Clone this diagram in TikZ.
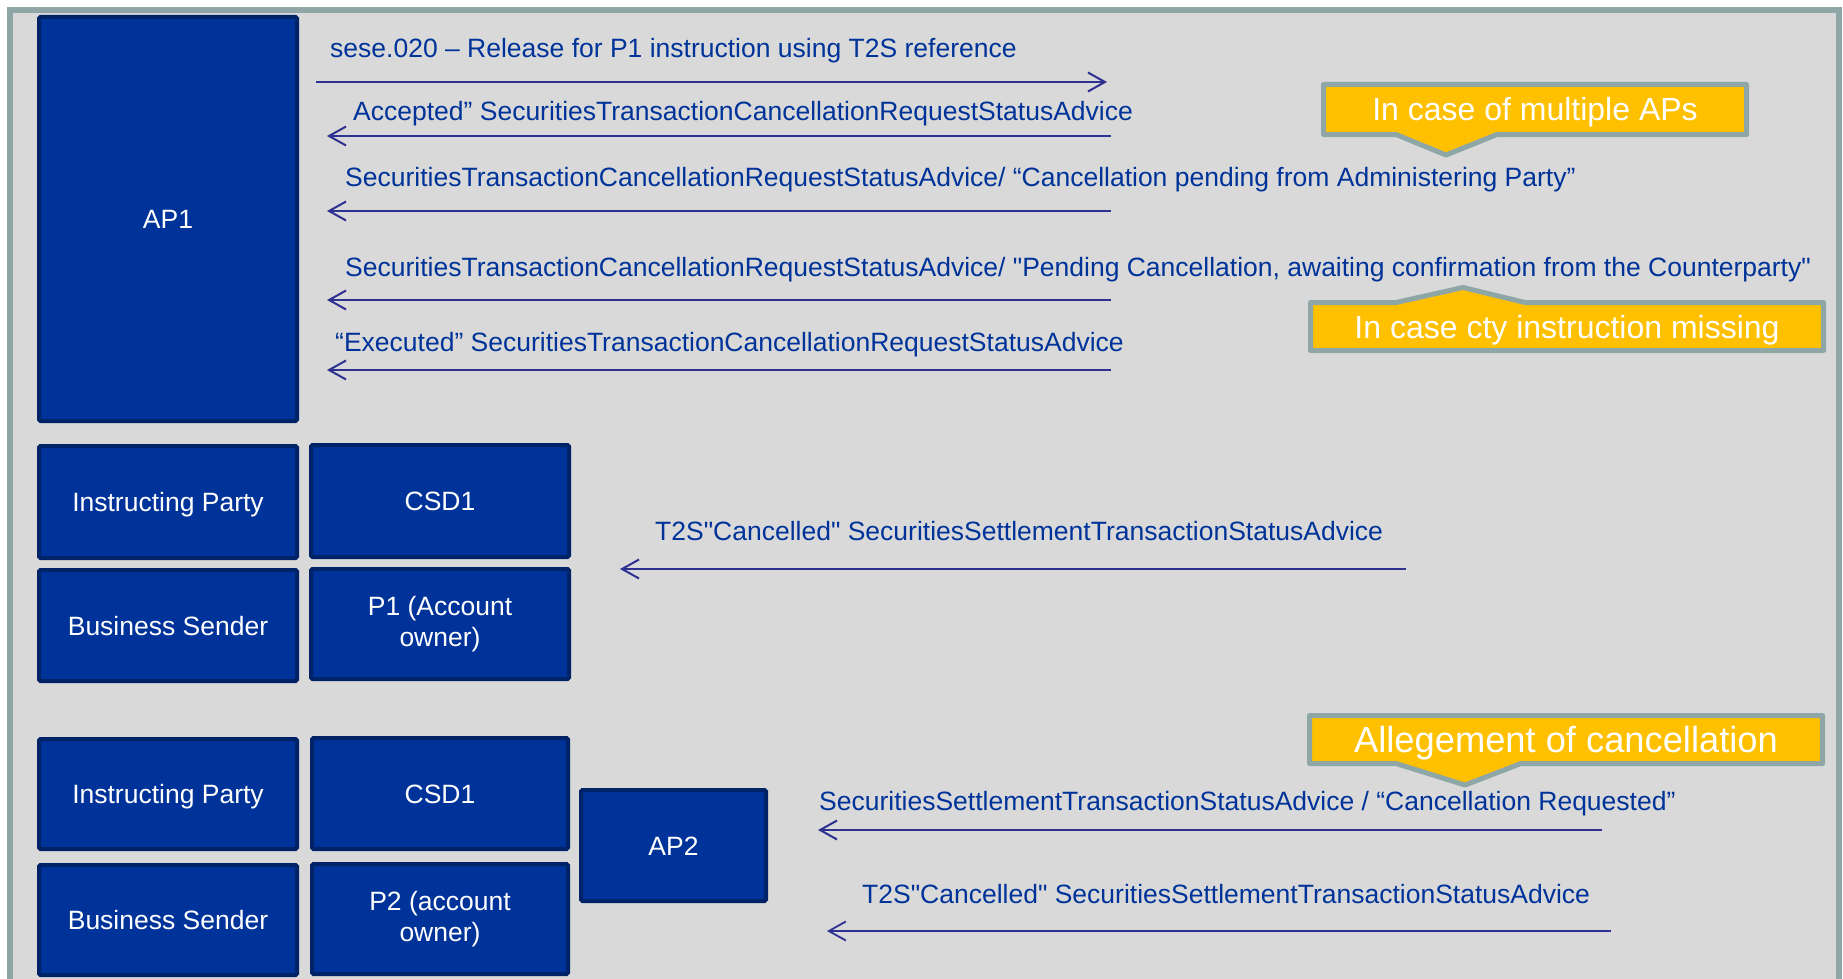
\documentclass[tikz,border=0pt]{standalone}
\usepackage{fontspec}
\setmainfont{Liberation Sans}[Ligatures=TeXOff]
\usetikzlibrary{arrows.meta}
\definecolor{bgfill}{RGB}{217,217,217}
\definecolor{framecol}{RGB}{143,166,166}
\definecolor{boxfill}{RGB}{0,51,153}
\definecolor{boxedge}{RGB}{0,34,102}
\definecolor{msgblue}{RGB}{0,51,153}
\definecolor{arrowblue}{RGB}{46,49,146}
\definecolor{callfill}{RGB}{255,192,0}
\tikzset{
  party/.style={draw=boxedge, fill=boxfill, line width=4pt, rounded corners=1.5pt,
    inner sep=0pt, text=white, font=\fontsize{26.5}{31}\selectfont, align=center},
  oneline/.style={text height=19pt, text depth=0pt},
  msg/.style={anchor=base west, inner sep=0pt, text=msgblue, font=\fontsize{26.5}{31}\selectfont},
  flow/.style={draw=arrowblue, line width=2pt, -{Straight Barb[length=17pt,width=19pt]}},
  callout/.style={draw=framecol, fill=callfill, line width=5pt, line join=round},
  calltext/.style={anchor=base, inner sep=0pt, text=white},
}
\begin{document}
\begin{tikzpicture}[x=1pt,y=-1pt]
\clip (0,0) rectangle (1843,979);
\fill[white] (0,0) rectangle (1843,979);
\draw[framecol, fill=bgfill, line width=5.5pt] (10,10) rectangle (1839,1000);

% parties
\node[party, oneline, minimum width=258pt, minimum height=404pt] (ap1) at (168,219) {AP1};
\node[party, oneline, minimum width=258pt, minimum height=112pt] (ip1) at (168,502) {Instructing Party};
\node[party, oneline, minimum width=258pt, minimum height=112pt] (csd1a) at (440,501) {CSD1};
\node[party, oneline, minimum width=258pt, minimum height=111pt] (bs1) at (168,625.5) {Business Sender};
\node[party, minimum width=258pt, minimum height=110pt] (p1) at (440,624) {P1 (Account\\owner)};
\node[party, oneline, minimum width=258pt, minimum height=110pt] (ip2) at (168,794) {Instructing Party};
\node[party, oneline, minimum width=256pt, minimum height=111pt] (csd1b) at (440,793.5) {CSD1};
\node[party, oneline, minimum width=258pt, minimum height=110pt] (bs2) at (168,920) {Business Sender};
\node[party, minimum width=256pt, minimum height=110pt] (p2) at (440,919) {P2 (account\\owner)};
\node[party, oneline, minimum width=185pt, minimum height=111pt] (ap2) at (673.5,845.5) {AP2};

% message arrows
\coordinate (m1s) at (316,82);   \coordinate (m1e) at (1107,82);
\coordinate (m2s) at (1111,136); \coordinate (m2e) at (327,136);
\coordinate (m3s) at (1111,211); \coordinate (m3e) at (327,211);
\coordinate (m4s) at (1111,300); \coordinate (m4e) at (327,300);
\coordinate (m5s) at (1111,370); \coordinate (m5e) at (327,370);
\coordinate (m6s) at (1406,569); \coordinate (m6e) at (620,569);
\coordinate (m7s) at (1602,830); \coordinate (m7e) at (818,830);
\coordinate (m8s) at (1611,931); \coordinate (m8e) at (827,931);
\draw[flow] (m1s) -- (m1e);
\draw[flow] (m2s) -- (m2e);
\draw[flow] (m3s) -- (m3e);
\draw[flow] (m4s) -- (m4e);
\draw[flow] (m5s) -- (m5e);
\draw[flow] (m6s) -- (m6e);
\draw[flow] (m7s) -- (m7e);
\draw[flow, line width=1.8pt] (m8s) -- (m8e);

% message labels
\node[msg] (t1) at (330,58) {sese.020 – Release for P1 instruction using T2S reference};
\node[msg] (t2) at (353,121) {Accepted” SecuritiesTransactionCancellationRequestStatusAdvice};
\node[msg] (t3) at (345,186) {SecuritiesTransactionCancellationRequestStatusAdvice/ “Cancellation pending from Administering Party”};
\node[msg] (t4) at (345,276) {SecuritiesTransactionCancellationRequestStatusAdvice/ "Pending Cancellation, awaiting confirmation from the Counterparty"};
\node[msg] (t5) at (335,351) {“Executed” SecuritiesTransactionCancellationRequestStatusAdvice};
\node[msg] (t6) at (655,540) {T2S"Cancelled" SecuritiesSettlementTransactionStatusAdvice};
\node[msg] (t7) at (819,810) {SecuritiesSettlementTransactionStatusAdvice / “Cancellation Requested”};
\node[msg] (t8) at (862,903) {T2S"Cancelled" SecuritiesSettlementTransactionStatusAdvice};

% callouts
\draw[callout] (1323.5,84.5) -- (1746.5,84.5) -- (1746.5,134.5) -- (1497,134.5)
  -- (1446,155) -- (1396,134.5) -- (1323.5,134.5) -- cycle;
\node[calltext, font=\fontsize{32}{36}\selectfont] (c1) at (1535,121) {In case of multiple APs};
\draw[callout] (1310.5,302.5) -- (1396,302.5) -- (1463,287.5) -- (1525,302.5)
  -- (1823.5,302.5) -- (1823.5,350.5) -- (1310.5,350.5) -- cycle;
\node[calltext, font=\fontsize{32}{36}\selectfont] (c2) at (1567,338) {In case cty instruction missing};
\draw[callout] (1309.5,715.5) -- (1822.5,715.5) -- (1822.5,763.5) -- (1521,763.5)
  -- (1465,785) -- (1396,763.5) -- (1309.5,763.5) -- cycle;
\node[calltext, font=\fontsize{36.3}{40}\selectfont] (c3) at (1566,752) {Allegement of cancellation};
\end{tikzpicture}
\end{document}
